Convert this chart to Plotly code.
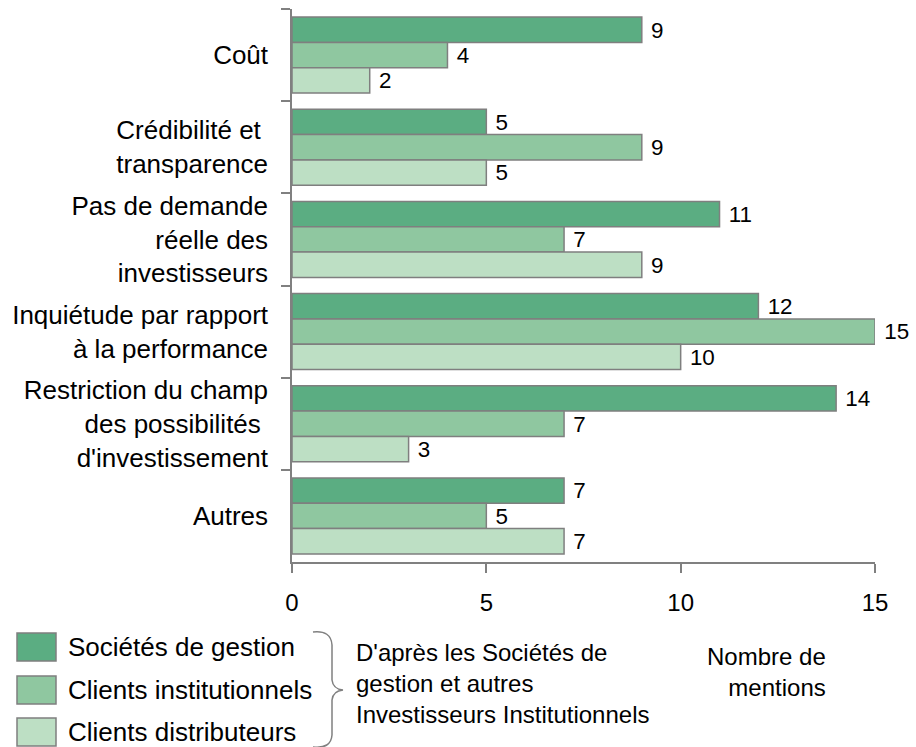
import plotly.graph_objects as go

categories = [
    "Coût",
    "Crédibilité et\u00a0<br>transparence",
    "Pas de demande<br>réelle des<br>investisseurs",
    "Inquiétude par rapport<br>à la performance",
    "Restriction du champ<br>des possibilités\u00a0<br>d'investissement",
    "Autres",
]
series_names = ["Sociétés de gestion", "Clients institutionnels", "Clients distributeurs"]
societes_gestion = [9, 5, 11, 12, 14, 7]
clients_institutionnels = [4, 9, 7, 15, 7, 5]
clients_distributeurs = [2, 5, 9, 10, 3, 7]
x_ticks = [0, 5, 10, 15]

colors = ["#5BAD82", "#8FC7A0", "#BDDFC4"]
FONT = "Liberation Sans, Arial, sans-serif"

W, H = 916, 747
L, R, T, B = 292, 41, 9, 185
pw, ph = W - L - R, H - T - B


def px(x):
    return (x - L) / pw


def py(y):
    return (H - B - y) / ph


fig = go.Figure()
for name, vals, col in zip(series_names,
                           [societes_gestion, clients_institutionnels, clients_distributeurs],
                           colors):
    fig.add_trace(go.Bar(
        y=categories, x=vals, name=name, orientation="h",
        marker=dict(color=col, line=dict(color="#7F7F7F", width=1.5)),
        text=vals, texttemplate="\u00a0%{x}", textposition="outside",
        textfont=dict(size=23, color="black", family=FONT),
        cliponaxis=False, showlegend=False,
    ))

# hand-drawn legend (large square swatches)
legend_y = [647, 690, 732]
shapes = []
annotations = []
for name, col, yc in zip(series_names, colors, legend_y):
    shapes.append(dict(type="rect", xref="paper", yref="paper",
                       x0=px(17), x1=px(56), y0=py(yc + 14), y1=py(yc - 14),
                       fillcolor=col, line=dict(color="#7F7F7F", width=1.5)))
    annotations.append(dict(text=name, xref="paper", yref="paper", x=px(66), y=py(yc),
                            xanchor="left", yanchor="middle", showarrow=False,
                            font=dict(size=26, family=FONT, color="black")))

# curly brace
pts = [(313, 632), (331, 630), (332, 645), (332, 680), (333, 689), (343, 690),
       (333, 691), (332, 700), (332, 735), (331, 749), (313, 747)]
P = [(px(a), py(b)) for a, b in pts]
path = "M {} {} Q {} {} {} {} L {} {} Q {} {} {} {} Q {} {} {} {} L {} {} Q {} {} {} {}".format(
    *P[0], *P[1], *P[2], *P[3], *P[4], *P[5], *P[6], *P[7], *P[8], *P[9], *P[10])
shapes.append(dict(type="path", xref="paper", yref="paper", path=path,
                   line=dict(color="#808080", width=1.5)))

annotations.append(dict(
    text="D'après les Sociétés de<br>gestion et autres<br>Investisseurs Institutionnels",
    xref="paper", yref="paper", x=px(354), y=py(683), xanchor="left", yanchor="middle",
    align="left", showarrow=False, font=dict(size=24, family=FONT, color="black")))
annotations.append(dict(
    text="Nombre de<br>mentions", xref="paper", yref="paper", x=px(828), y=py(672),
    xanchor="right", yanchor="middle", align="right", showarrow=False,
    font=dict(size=24, family=FONT, color="black")))

fig.update_layout(
    width=W, height=H,
    margin=dict(l=L, r=R, t=T, b=B),
    paper_bgcolor="white", plot_bgcolor="white",
    barmode="group", bargap=0.175, bargroupgap=0,
    font=dict(family=FONT, size=24, color="black"),
    shapes=shapes, annotations=annotations,
    xaxis=dict(range=[0, 15], tickvals=x_ticks, showgrid=False, zeroline=False,
               showline=True, linecolor="#808080", linewidth=1.5,
               ticks="outside", ticklen=9, tickcolor="#808080", tickwidth=1.5,
               ticklabelstandoff=9, tickfont=dict(size=24)),
    yaxis=dict(range=[5.5, -0.5], showgrid=False, zeroline=False,
               showline=True, linecolor="#808080", linewidth=1.5,
               ticks="outside", ticklen=9, tickcolor="#808080", tickwidth=1.5,
               tickson="boundaries", ticklabelstandoff=17, tickfont=dict(size=26)),
)

fig.write_html("out.html", config={"displayModeBar": False},
               post_script="document.body.style.margin='0';")
